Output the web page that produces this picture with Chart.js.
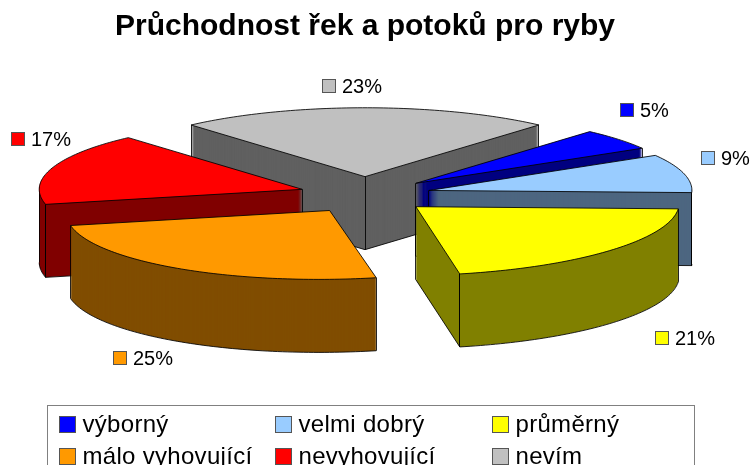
<!DOCTYPE html>
<html>
<head>
<meta charset="utf-8">
<style>html,body{margin:0;padding:0;background:#fff;overflow:hidden}canvas{display:block}</style>
<script src="https://cdn.jsdelivr.net/npm/chart.js@4"></script>
</head>
<body>
<canvas id="c" width="752" height="465"></canvas>
<script>
const chartTitle = 'Průchodnost řek a potoků pro ryby';
const categories = ['výborný', 'velmi dobrý', 'průměrný', 'málo vyhovující', 'nevyhovující', 'nevím'];
const shares = [5, 9, 21, 25, 17, 23];
const topColors = ['#0000FF', '#99CCFF', '#FFFF00', '#FF9900', '#FF0000', '#C0C0C0'];
const sideColors = ['#000080', '#4D6680', '#808000', '#804D00', '#800000', '#606060'];

const FONT = '"Liberation Sans", Arial, sans-serif';
const TILT = 0.262, DEPTH = 73, EXPLODE_X = 66, EXPLODE_Y = 70;
const SHEAR = [0, 0, -0.2, -0.16, 0, 0];
const PAINT_ORDER = [5, 4, 0, 1, 3, 2];
const EDGE = 'rgba(0,0,0,0.85)';
const LABEL_KEYS = [[620, 103], [701, 151], [655, 331], [113, 351], [11, 132], [322, 79]];
const LEGEND_COLS = [59.5, 275.5, 492.5], LEGEND_ROWS = [416, 448];

function flatOptions(color) {
  return {backgroundColor: color, borderColor: 'transparent', borderWidth: 0, borderAlign: 'center',
          borderRadius: 0, offset: 0, spacing: 0, circular: true, selfJoin: false};
}
function drawFlat(ctx, el, color, dx, dy, shear) {
  const saved = el.options;
  el.options = flatOptions(color);
  ctx.save();
  ctx.translate(dx, dy + el.y);
  ctx.transform(1, 0, shear * TILT, TILT, 0, 0);
  ctx.translate(0, -el.y);
  el.draw(ctx);
  ctx.restore();
  el.options = saved;
}
const pie3d = {
  id: 'pie3d',
  beforeDatasetDraw(chart, args) {
    const ctx = chart.ctx;
    const arcs = args.meta.data;
    PAINT_ORDER.forEach(i => {
      const el = arcs[i];
      const a = el.startAngle, b = el.endAngle, r = el.outerRadius, mid = (a + b) / 2;
      const k = SHEAR[i];
      const dx = EXPLODE_X * Math.cos(mid), dy = EXPLODE_Y * Math.sin(mid) * TILT;
      const px = t => el.x + dx + r * Math.cos(t) + k * r * Math.sin(t) * TILT;
      const py = (t, d) => el.y + dy + r * Math.sin(t) * TILT + d;
      const tx = el.x + dx, ty = el.y + dy;
      for (let d = DEPTH; d >= 1; d--) drawFlat(ctx, el, sideColors[i], dx, dy + d, k);

      ctx.save();
      ctx.strokeStyle = EDGE;
      ctx.lineWidth = 1;
      const startWall = Math.cos(a) < 0;
      const endWall = Math.cos(b) > 0;
      const snap = x => Math.round(x - 0.5) + 0.5;
      const line = (x1, y1, x2, y2) => { ctx.beginPath(); ctx.moveTo(x1, y1); ctx.lineTo(x2, y2); ctx.stroke(); };
      const riser = t => { const x = snap(px(t)); line(x, py(t, 0), x, py(t, DEPTH)); };
      if (startWall) {
        line(tx, ty + DEPTH, px(a), py(a, DEPTH));
        riser(a);
      }
      if (endWall) {
        line(tx, ty + DEPTH, px(b), py(b, DEPTH));
        riser(b);
      }
      if (startWall || endWall) line(snap(tx), ty, snap(tx), ty + DEPTH);
      const steps = Math.ceil((b - a) / 0.02);
      ctx.beginPath();
      let open = false;
      for (let s = 0; s <= steps; s++) {
        const t = a + (b - a) * s / steps;
        if (Math.sin(t) >= 0) {
          if (open) ctx.lineTo(px(t), py(t, DEPTH)); else ctx.moveTo(px(t), py(t, DEPTH));
          open = true;
        } else open = false;
      }
      ctx.stroke();
      [0, Math.PI, 2 * Math.PI, 3 * Math.PI].forEach(t => {
        if (t > a && t < b) riser(t);
      });
      [a, b].forEach(t => {
        if (Math.sin(t) > 0) riser(t);
      });

      drawFlat(ctx, el, topColors[i], dx, dy, k);
      ctx.beginPath();
      ctx.moveTo(tx, ty);
      for (let s = 0; s <= steps; s++) {
        const t = a + (b - a) * s / steps;
        ctx.lineTo(px(t), py(t, 0));
      }
      ctx.closePath();
      ctx.stroke();
      ctx.restore();
    });
    return false;
  },
  afterDraw(chart) {
    const ctx = chart.ctx;
    ctx.save();
    ctx.textBaseline = 'alphabetic';
    ctx.textAlign = 'left';
    // percentage labels with their colour keys
    ctx.font = '20px ' + FONT;
    shares.forEach((v, i) => {
      const [kx, ky] = LABEL_KEYS[i];
      ctx.fillStyle = topColors[i];
      ctx.fillRect(kx, ky, 14, 14);
      ctx.strokeStyle = '#555';
      ctx.lineWidth = 1;
      ctx.strokeRect(kx + 0.5, ky + 0.5, 13, 13);
      ctx.fillStyle = '#000';
      ctx.fillText(v + '%', kx + 20, ky + 14);
    });
    // legend
    ctx.strokeStyle = '#808080';
    ctx.lineWidth = 1;
    ctx.strokeRect(47.5, 405.5, 647, 100);
    ctx.font = '24px ' + FONT;
    ctx.letterSpacing = '0.3px';
    categories.forEach((name, i) => {
      const col = i % 3, row = Math.floor(i / 3);
      const kx = LEGEND_COLS[col], ky = LEGEND_ROWS[row];
      ctx.fillStyle = topColors[i];
      ctx.fillRect(kx, ky, 16, 16);
      ctx.strokeStyle = '#555';
      ctx.strokeRect(kx, ky + 0.5, 16, 16);
      ctx.fillStyle = '#000';
      ctx.fillText(name, kx + 23, ky + 16);
    });
    ctx.restore();
  }
};

new Chart(document.getElementById('c'), {
  type: 'pie',
  data: {
    labels: categories,
    datasets: [{data: shares, backgroundColor: topColors, borderWidth: 0}]
  },
  options: {
    responsive: false,
    animation: false,
    rotation: 41.4,
    radius: 263,
    layout: {padding: {left: 0, right: 22, top: 0, bottom: 120}},
    plugins: {
      legend: {display: false},
      tooltip: {enabled: false},
      title: {
        display: true,
        text: chartTitle,
        color: '#000',
        font: {family: FONT, size: 30, weight: 'bold'},
        padding: {top: 9, bottom: 0}
      }
    }
  },
  plugins: [pie3d]
});
</script>
</body>
</html>
